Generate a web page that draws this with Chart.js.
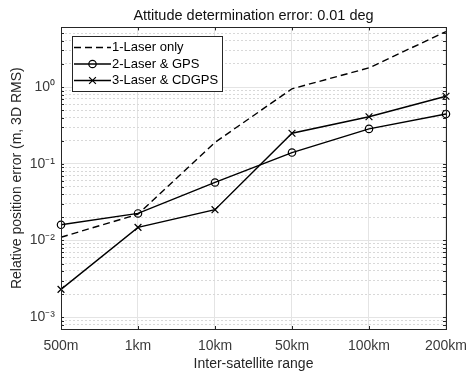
<!DOCTYPE html>
<html>
<head>
<meta charset="utf-8">
<script src="https://cdn.jsdelivr.net/npm/chart.js@4/dist/chart.umd.min.js"></script>
<style>
  html, body { margin: 0; padding: 0; background: #fff; }
  #wrap { width: 476px; height: 379px; }
</style>
</head>
<body>
<div id="wrap"><canvas id="chart" width="476" height="379"></canvas></div>
<script>
// inter-satellite ranges (categories)
const ranges = ["500m", "1km", "10km", "50km", "100km", "200km"];

// relative position error, m (3D RMS)
const laserOnly = [0.011, 0.022, 0.19, 0.95, 1.78, 5.3];
const laserGps = [0.016, 0.0225, 0.057, 0.14, 0.285, 0.445];
const laserCdgps = [0.0023, 0.0148, 0.0252, 0.25, 0.41, 0.76];

const seriesNames = ["1-Laser only", "2-Laser & GPS", "3-Laser & CDGPS"];

// y axis tick labels (decades)
const decadeTicks = [1e-3, 1e-2, 1e-1, 1];
const decadeLabels = ["10\u207B\u00B3", "10\u207B\u00B2", "10\u207B\u00B9", "10\u2070"];

const yMin = 7e-4;
const yMax = 6;

const minorTicks = [];
for (let e = -4; e <= 0; e++) {
    for (let k = 2; k <= 9; k++) {
        const v = k * Math.pow(10, e);
        if (v >= yMin && v <= yMax) minorTicks.push(v);
    }
}

const FONT = "'Liberation Sans', Arial, Helvetica, sans-serif";
const TEXT = "#262626";
const TICK_TEXT = "#3a3a3a";

const frame = {
    id: "frame",
    afterDatasetsDraw(chart) {
        const { ctx, chartArea: a, scales } = chart;
        ctx.save();
        ctx.strokeStyle = TEXT;
        ctx.lineWidth = 1;
        ctx.beginPath();
        // inward tick marks on left/right edges
        const yt = decadeTicks.concat(minorTicks);
        yt.forEach(v => {
            const py = Math.round(scales.y.getPixelForValue(v)) + 0.5;
            ctx.moveTo(a.left, py); ctx.lineTo(a.left + 3, py);
            ctx.moveTo(a.right, py); ctx.lineTo(a.right - 3, py);
        });
        // inward tick marks on bottom/top edges
        ranges.forEach((r, i) => {
            const px = Math.round(scales.x.getPixelForValue(i)) + 0.5;
            ctx.moveTo(px, a.bottom); ctx.lineTo(px, a.bottom - 3);
            ctx.moveTo(px, a.top); ctx.lineTo(px, a.top + 3);
        });
        ctx.stroke();
        ctx.strokeRect(Math.round(a.left) + 0.5, Math.round(a.top) + 0.5,
            Math.round(a.right - a.left), Math.round(a.bottom - a.top));
        ctx.restore();
    }
};

const legendBox = {
    id: "legendBox",
    afterDraw(chart) {
        const { ctx, chartArea: a } = chart;
        const x = Math.round(a.left) + 11;
        const y = Math.round(a.top) + 9;
        const w = 150, h = 55;
        ctx.save();
        ctx.fillStyle = "#fff";
        ctx.fillRect(x, y, w, h);
        ctx.strokeStyle = TEXT;
        ctx.lineWidth = 1;
        ctx.strokeRect(x + 0.5, y + 0.5, w, h);

        chart.data.datasets.forEach((ds, i) => {
            const cy = y + 11.5 + i * 16.5;
            ctx.strokeStyle = ds.borderColor;
            ctx.lineWidth = ds.borderWidth;
            ctx.setLineDash(ds.borderDash || []);
            ctx.beginPath();
            ctx.moveTo(x + 2, cy);
            ctx.lineTo(x + 39, cy);
            ctx.stroke();
            ctx.setLineDash([]);
            if (ds.pointRadius > 0) {
                ctx.fillStyle = "rgba(0,0,0,0)";
                ctx.lineWidth = ds.pointBorderWidth;
                Chart.helpers.drawPoint(ctx, {
                    pointStyle: ds.pointStyle,
                    radius: ds.pointRadius,
                    borderWidth: ds.pointBorderWidth,
                    rotation: 0
                }, x + 20.5, cy);
            }
            ctx.fillStyle = "#000";
            ctx.font = "13px " + FONT;
            ctx.textBaseline = "middle";
            ctx.textAlign = "left";
            ctx.fillText(ds.label, x + 40, cy);
        });
        ctx.restore();
    }
};

const ctx = document.getElementById("chart").getContext("2d");

new Chart(ctx, {
    type: "line",
    data: {
        labels: ranges,
        datasets: [
            {
                label: seriesNames[0],
                data: laserOnly,
                borderColor: "#000",
                borderWidth: 1.4,
                borderDash: [7, 4],
                pointRadius: 0,
                fill: false,
                tension: 0,
            },
            {
                label: seriesNames[1],
                data: laserGps,
                borderColor: "#000",
                borderWidth: 1.4,
                pointStyle: "circle",
                pointRadius: 3.7,
                pointBorderWidth: 1.2,
                pointBorderColor: "#000",
                pointBackgroundColor: "rgba(0,0,0,0)",
                fill: false,
                tension: 0,
            },
            {
                label: seriesNames[2],
                data: laserCdgps,
                borderColor: "#000",
                borderWidth: 1.4,
                pointStyle: "crossRot",
                pointRadius: 4.8,
                pointBorderWidth: 1.2,
                pointBorderColor: "#000",
                pointBackgroundColor: "rgba(0,0,0,0)",
                fill: false,
                tension: 0,
            }
        ]
    },
    options: {
        responsive: false,
        animation: false,
        devicePixelRatio: 1,
        layout: {
            padding: { right: 27 }
        },
        plugins: {
            legend: { display: false },
            tooltip: { enabled: false },
            title: {
                display: true,
                text: "Attitude determination error: 0.01 deg",
                fullSize: false,
                color: "#111",
                font: { family: FONT, size: 14.5, weight: "normal" },
                padding: { top: 7, bottom: 3 },
            }
        },
        scales: {
            x: {
                type: "category",
                offset: false,
                grid: { color: "#e4e4e4", drawTicks: false },
                border: { display: false },
                ticks: {
                    color: TICK_TEXT,
                    font: { family: FONT, size: 14 },
                    padding: 9,
                    maxRotation: 0,
                    autoSkip: false,
                },
                title: {
                    display: true,
                    text: "Inter-satellite range",
                    color: TEXT,
                    font: { family: FONT, size: 14 },
                    padding: { top: 0, bottom: 6 },
                },
                afterFit: (s) => { s.height = 50; },
            },
            y: {
                type: "logarithmic",
                position: "left",
                min: yMin,
                max: yMax,
                afterBuildTicks: (s) => {
                    s.ticks = decadeTicks.map(v => ({ value: v }));
                },
                grid: { color: "#e4e4e4", drawTicks: false },
                border: { display: false },
                ticks: {
                    color: TICK_TEXT,
                    font: { family: FONT, size: 14 },
                    padding: 6,
                    callback: (v) => {
                        const i = decadeTicks.indexOf(v);
                        return i >= 0 ? decadeLabels[i] : "";
                    }
                },
                title: {
                    display: true,
                    text: "Relative position error (m, 3D RMS)",
                    color: TEXT,
                    font: { family: FONT, size: 14 },
                    padding: { top: 9, bottom: 0 },
                },
                afterFit: (s) => { s.width = 61; },
            },
            yMinor: {
                type: "logarithmic",
                position: "right",
                min: yMin,
                max: yMax,
                afterBuildTicks: (s) => {
                    s.ticks = minorTicks.map(v => ({ value: v }));
                },
                grid: { color: "#d8d8d8", drawTicks: false },
                border: { display: false, dash: [2, 2] },
                ticks: { display: false },
                afterFit: (s) => { s.width = 0; },
            }
        }
    },
    plugins: [frame, legendBox]
});
</script>
</body>
</html>
